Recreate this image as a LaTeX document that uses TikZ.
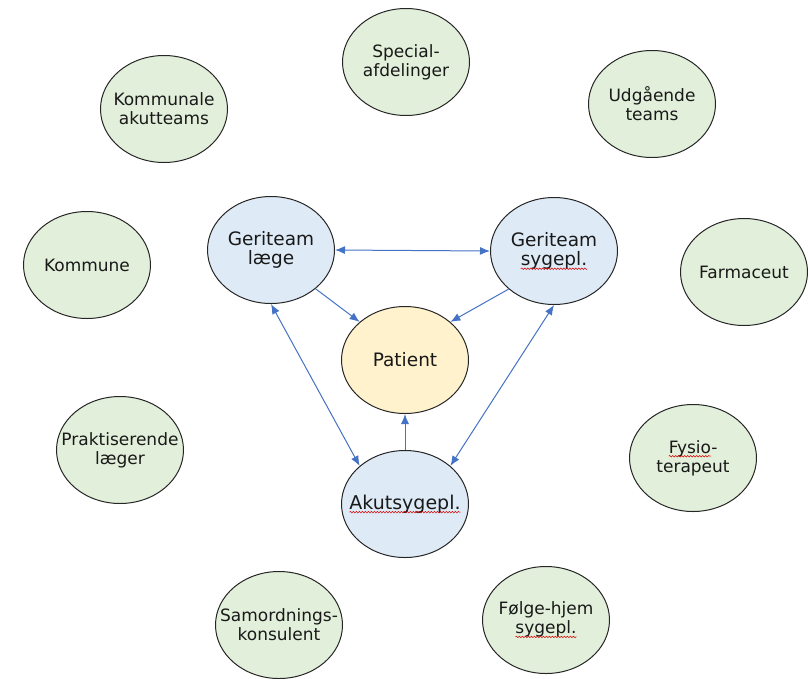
\documentclass[tikz,border=0pt]{standalone}
\usepackage{fontspec}
\setmainfont{DejaVu Sans}
\usetikzlibrary{shapes.geometric,arrows.meta,decorations.pathmorphing}
\definecolor{gfill}{RGB}{226,239,218}
\definecolor{bfill}{RGB}{222,235,247}
\definecolor{yfill}{RGB}{255,242,204}
\definecolor{arr}{RGB}{68,114,196}
\definecolor{txt}{RGB}{25,25,25}
\newcommand\spellwave[1]{\tikz[baseline=(sw.base)]{\node[inner sep=0pt,outer sep=0pt] (sw) {#1};
  \draw[red!85!black,line width=0.5pt,decorate,decoration={snake,amplitude=0.8pt,segment length=3pt}]
    ([yshift=-3pt]sw.base west) -- ([yshift=-3pt]sw.base east);}}
\begin{document}
\begin{tikzpicture}[x=1pt,y=-1pt,
  oval/.style={ellipse,draw=black!85,line width=1pt,inner sep=0pt,
    minimum width=127pt,minimum height=107pt},
  green/.style={oval,fill=gfill},
  blue/.style={oval,fill=bfill},
  yellow/.style={oval,fill=yfill},
  gtxt/.style={align=center,text=txt,font=\fontsize{17}{19}\selectfont},
  btxt/.style={align=center,text=txt,font=\fontsize{18.5}{19.5}\selectfont},
  atxt/.style={align=center,text=txt,font=\fontsize{19}{20}\selectfont},
  conn/.style={draw=arr,line width=1pt,-{Latex[length=10pt,width=8pt]}},
  both/.style={draw=arr,line width=1pt,{Latex[length=10pt,width=8pt]}-{Latex[length=10pt,width=8pt]}}]
\useasboundingbox (0,0) rectangle (808,678);
% outer ring
\node[green,label={[gtxt]center:{Special-\\afdelinger}}] (spec) at (406,62) {};
\node[green,label={[gtxt]center:{Kommunale\\akutteams}}] (komak) at (164,109) {};
\node[green,label={[gtxt]center:{Udgående\\teams}}] (udg) at (652,104) {};
\node[green,label={[gtxt]center:{Kommune}}] (kom) at (87,265) {};
\node[green,label={[gtxt]center:{Farmaceut}}] (farm) at (744,272) {};
\node[green,label={[gtxt]center:{Praktiserende\\læger}}] (prak) at (120,450) {};
\node[green,label={[gtxt]center:{\spellwave{Fysio}-\\terapeut}}] (fys) at (693,458) {};
\node[green,label={[gtxt]center:{Samordnings-\\konsulent}}] (sam) at (279,625) {};
\node[green,label={[gtxt]center:{Følge-hjem\\\spellwave{sygepl.}}}] (folg) at (546,620) {};
% inner triangle
\node[blue,label={[btxt]center:{Geriteam\\læge}}] (gl) at (271,250) {};
\node[blue,label={[btxt]center:{Geriteam\\\spellwave{sygepl.}}}] (gs) at (554,251) {};
\node[yellow,label={[btxt]center:{Patient}}] (pat) at (405,360) {};
\node[blue,label={[atxt]center:{\spellwave{Akutsygepl.}}}] (akut) at (405,504) {};
% connectors
\draw[both] (gl.east) -- (gs.west);
\draw[conn] (gl.-41) -- (pat.140);
\draw[conn] (gs.220) -- (pat.40);
\draw[both] (gl.south) -- (akut.140);
\draw[both] (gs.south) -- (akut.40);
\draw[conn] (akut.north) -- (pat.south);
\end{tikzpicture}
\end{document}
